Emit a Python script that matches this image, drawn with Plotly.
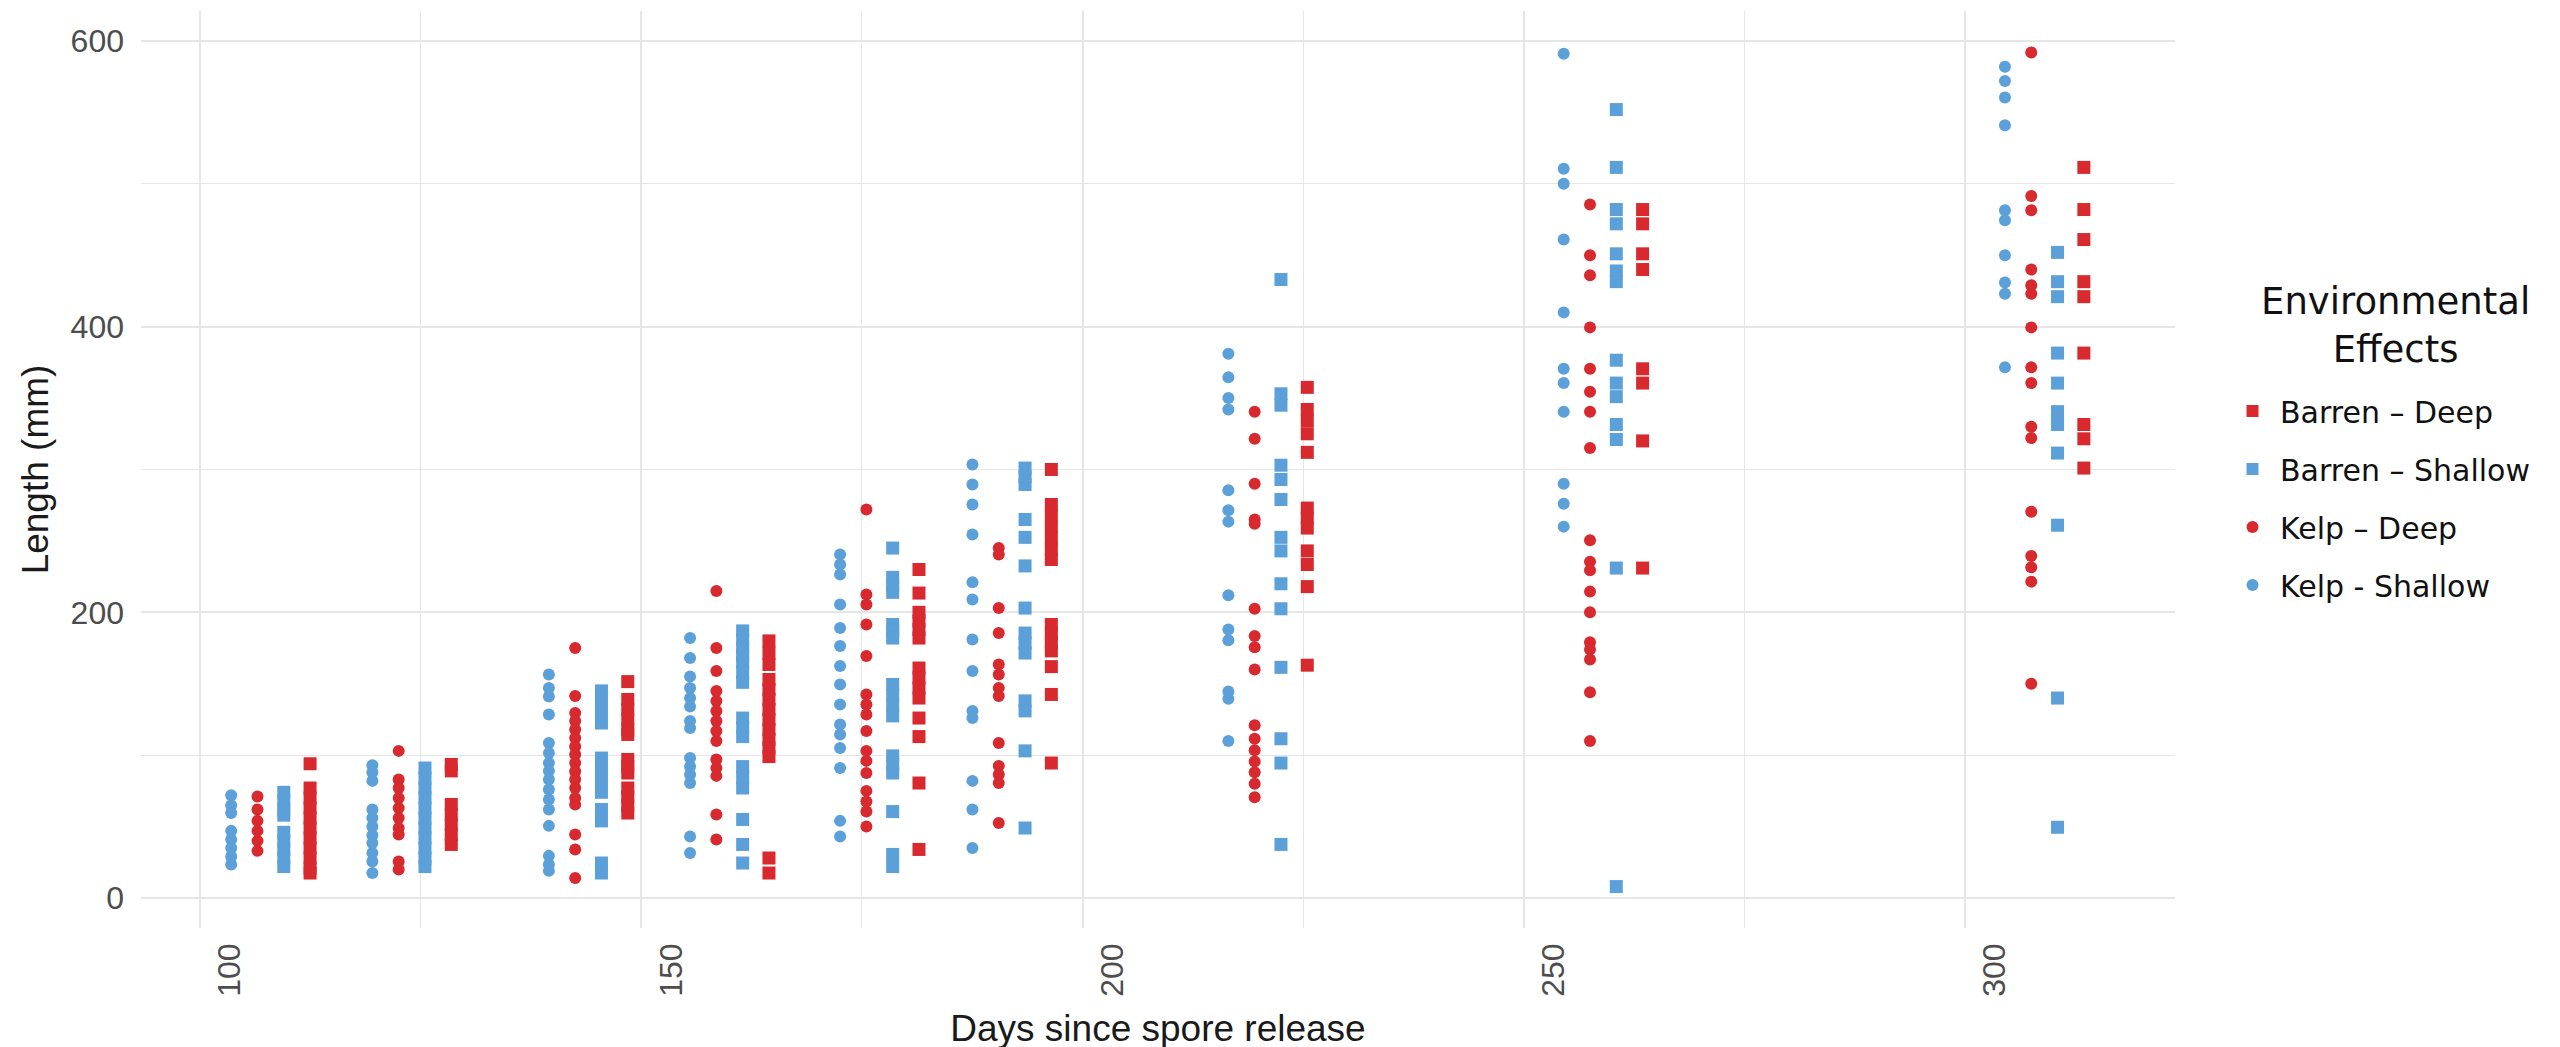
import plotly.graph_objects as go

# ---- data -------------------------------------------------------------
sampling_days = [108, 124, 144, 160, 177, 192, 221, 259, 309]

kelp_shallow = [
    [72, 65, 59.5, 47, 41, 35, 29, 23.5],
    [93, 88, 82, 62, 56, 50, 44, 38.5, 31.5, 25.5, 17.5],
    [156.5, 147, 141, 128.5, 108.5, 101.5, 94.5, 89, 83, 76, 69, 62, 50.5, 29.5, 23.5, 19],
    [182, 168, 155, 147, 140, 134, 124, 119, 98, 92, 86.5, 80.5, 43, 31.5],
    [240.5, 233.5, 226.5, 205.5, 189, 176.5, 162.5, 149.5, 135.5, 121.5, 114.5, 105, 91, 54, 43],
    [303.5, 289.5, 275.5, 254.5, 221, 209, 181, 159, 131, 126, 82, 62, 35],
    [381, 364.5, 350, 342, 285.5, 271.5, 263.5, 212, 188, 180.5, 144.5, 139.5, 110],
    [591, 510.5, 500, 461, 410, 370.5, 360.5, 340.5, 290, 276, 260],
    [582, 572, 560.5, 541, 481.5, 474.5, 450, 431, 423, 371.5],
]

kelp_deep = [
    [71, 62, 54, 47, 40, 33],
    [103, 83, 77, 70, 63, 56, 49, 44.5, 25.5, 20],
    [175, 141.5, 129.5, 124, 118, 112, 106, 100.5, 94.5, 88.5, 83, 77, 70, 65.5, 44.5, 34, 14],
    [215, 175, 159, 145, 138, 131, 124, 117, 110, 97, 91, 85.5, 58.5, 41],
    [272, 212.5, 205.5, 191.5, 169.5, 142.5, 135.5, 128.5, 117, 103, 96, 87.5, 75, 67.5, 60.5, 50],
    [245, 240.5, 203, 185.5, 163.5, 156.5, 147, 141.5, 108.5, 92.5, 86.5, 80.5, 52.5],
    [340.5, 321.5, 290, 265, 262, 202.5, 183.5, 175.5, 160, 121, 111.5, 103.5, 95.5, 88, 80, 70.5],
    [485.5, 450, 436, 399.5, 370.5, 354.5, 340.5, 315, 250.5, 235.5, 229.5, 214.5, 200, 179, 174, 167, 144, 110],
    [592, 491.5, 481.5, 440, 429, 423, 399.5, 371.5, 360.5, 330, 322, 270.5, 239.5, 231.5, 221.5, 150],
]

barren_shallow = [
    [74, 68, 62, 58, 46, 40, 34, 28, 22],
    [91, 84, 77, 70, 63, 56, 49, 42, 35, 28, 22],
    [145, 137.5, 130, 122.5, 98, 90, 82, 74, 62, 54, 24.5, 17.5],
    [187, 181, 175, 170, 165, 158, 151, 126, 119.5, 113, 92, 84.5, 77, 55, 37.5, 24.5],
    [245, 224.5, 219, 214, 191.5, 187, 182, 149.5, 142, 134.5, 127.5, 99.5, 93.5, 87.5, 60.5, 30.5, 22],
    [301, 295, 289.5, 265, 252.5, 232.5, 203, 185.5, 178.5, 171.5, 138, 131, 103, 49],
    [433, 353, 345, 303, 293, 279, 252.5, 243, 220, 202.5, 161.5, 111.5, 94.5, 37.5],
    [552, 511.5, 482, 472, 451, 439, 431.5, 376.5, 360.5, 351, 331.5, 321, 231, 8],
    [452, 431.5, 421, 381.5, 360.5, 340.5, 331.5, 311.5, 261, 140, 49.5],
]

barren_deep = [
    [94, 77, 70, 63, 56, 49, 42, 35, 28, 21, 17.5],
    [93.5, 89, 65.5, 58.5, 51.5, 44.5, 37.5],
    [151.5, 139, 132, 125, 118, 114.5, 97, 92, 87.5, 77, 71, 65, 59.5],
    [180, 171.5, 163.5, 153, 146, 139, 132, 125, 118, 111, 105, 99, 28, 17.5],
    [230, 213.5, 200, 194, 188, 182, 161, 154, 147, 140, 126, 113, 80.5, 34],
    [300, 275.5, 268, 260, 252, 244, 237, 191.5, 185, 179, 173, 162, 142.5, 94.5],
    [357.5, 342, 334, 325, 312, 273, 266, 259, 243, 233.5, 218, 163],
    [482, 472, 451, 440, 370.5, 360.5, 320, 231],
    [511.5, 482, 461, 431.5, 421, 381.5, 331.5, 321.5, 301],
]

x_ticks = [100, 150, 200, 250, 300]
y_ticks = [0, 200, 400, 600]
legend_title = "Environmental<br>Effects"

# ---- styling ----------------------------------------------------------
RED = "#d8292f"
BLUE = "#5ba0d8"
DODGE_STEP = 2.98  # days between dodged groups

# (name, values, colour, symbol, dodge index, marker size)
groups = [
    ("Barren \u2013 Deep", barren_deep, RED, "square", 3, 13),
    ("Barren \u2013 Shallow", barren_shallow, BLUE, "square", 2, 13),
    ("Kelp \u2013 Deep", kelp_deep, RED, "circle", 1, 12),
    ("Kelp - Shallow", kelp_shallow, BLUE, "circle", 0, 12),
]

fig = go.Figure()
for name, vals, col, sym, idx, size in groups:
    xs, ys = [], []
    off = (idx - 1.5) * DODGE_STEP
    for d, v in zip(sampling_days, vals):
        xs += [d + off] * len(v)
        ys += v
    fig.add_trace(go.Scatter(
        x=xs, y=ys, mode="markers", name=name, legendgroup=name,
        marker=dict(color=col, symbol=sym, size=size, line=dict(width=0)),
    ))

TICK_FONT = dict(family="Liberation Sans, Arial, sans-serif", size=32, color="#4d4d4d")
TITLE_FONT = dict(family="Liberation Sans, Arial, sans-serif", size=37, color="#1a1a1a")
LEG_FONT = "DejaVu Sans, sans-serif"
GRID = "#e6e6e6"

# plot area in pixels: left 133, right 2167, top 3, bottom 920
PL, PR, PT, PB = 133, 2167, 3, 920

fig.update_layout(
    width=2560, height=1047,
    margin=dict(l=PL, r=2560 - PR, t=PT, b=1047 - PB),
    paper_bgcolor="white", plot_bgcolor="white",
    xaxis=dict(
        range=[93.31, 323.8], tickvals=x_ticks, ticktext=[str(t) for t in x_ticks],
        tickangle=-90, tickfont=TICK_FONT, showline=False, zeroline=False,
        showgrid=True, gridcolor=GRID, gridwidth=1.5,
        minor=dict(dtick=25, tick0=75, showgrid=True, gridcolor=GRID, gridwidth=1.2),
        title=dict(text="Days since spore release", font=TITLE_FONT, standoff=19),
        ticks="", ticklabelstandoff=8, ticklabelshift=30,
    ),
    yaxis=dict(
        range=[-21.0, 621.0], tickvals=y_ticks, ticktext=[str(t) for t in y_ticks],
        tickfont=TICK_FONT, showline=False, zeroline=False,
        showgrid=True, gridcolor=GRID, gridwidth=1.5,
        minor=dict(dtick=100, tick0=0, showgrid=True, gridcolor=GRID, gridwidth=1.2),
        title=dict(text="Length (mm)", font=TITLE_FONT, standoff=10),
        ticks="", ticklabelstandoff=16,
    ),
    legend=dict(
        xref="container", yref="container", x=2217 / 2560, y=1 - 377 / 1047,
        xanchor="left", yanchor="top",
        font=dict(family=LEG_FONT, size=30, color="#111111"),
        tracegroupgap=16, itemsizing="constant", itemwidth=45,
        bgcolor="rgba(0,0,0,0)",
    ),
    showlegend=True,
    annotations=[dict(
        text=legend_title, xref="paper", yref="paper",
        x=(2387 - PL) / (PR - PL), y=(PB - 317) / (PB - PT),
        xanchor="center", yanchor="middle", align="center", showarrow=False,
        font=dict(family=LEG_FONT, size=37, color="#111111"),
    )],
)

fig.write_html("out.html")
